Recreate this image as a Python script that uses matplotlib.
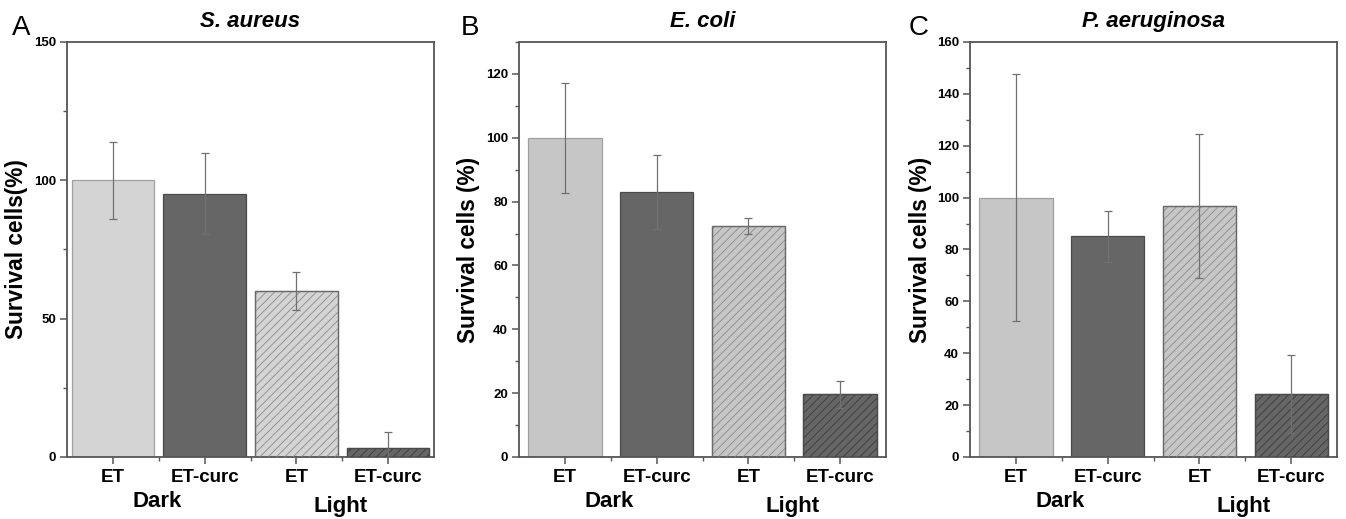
import numpy as np
import matplotlib
matplotlib.use('Agg')
import matplotlib.pyplot as plt
from matplotlib.ticker import MultipleLocator, FixedLocator
import matplotlib.transforms as mtransforms

plt.rcParams['font.family'] = ['Liberation Sans', 'DejaVu Sans']
plt.rcParams['hatch.linewidth'] = 0.6

# ── Data ──────────────────────────────────────────────────────────────────────
categories = ['ET', 'ET-curc', 'ET', 'ET-curc']
groups = ['Dark', 'Light']
titles = ['S. aureus', 'E. coli', 'P. aeruginosa']
letters = ['A', 'B', 'C']
ylabels = ['Survival cells(%)', 'Survival cells (%)', 'Survival cells (%)']

aureus_mean = [100, 95.2, 60, 3.2]
aureus_err = [14, 14.5, 7, 5.7]
coli_mean = [100, 83, 72.4, 19.6]
coli_err = [17.3, 11.7, 2.5, 4.3]
aerug_mean = [100, 85.1, 96.8, 24.3]
aerug_err = [47.5, 9.8, 27.8, 14.9]

means = [aureus_mean, coli_mean, aerug_mean]
errs = [aureus_err, coli_err, aerug_err]

# ── Style ─────────────────────────────────────────────────────────────────────
ylims = [150, 130, 160]
ymajor = [50, 20, 20]
yminor = [25, 10, 10]
bar_w = [0.9, 0.8, 0.8]
light_fill = ['#d4d4d4', '#c6c6c6', '#c6c6c6']
DARK_FILL = '#666666'
SPINE = '#555555'
hatch_col = ['#8a8a8a', '#3a3a3a']

fig = plt.figure(figsize=(13.46, 5.19), dpi=100)
lefts = [0.0498, 0.3856, 0.7207]
letter_x = [0.0085, 0.3425, 0.675]

x = np.arange(1, 5)
for i in range(3):
    ax = fig.add_axes([lefts[i], 0.1195, 0.2727, 0.7996])
    fills = [light_fill[i], DARK_FILL, light_fill[i], DARK_FILL]
    edges = ['#a0a0a0', '#4a4a4a', '#6a6a6a', '#4a4a4a']
    ax.bar(x, means[i], width=bar_w[i], color=fills, edgecolor=edges,
           linewidth=0.9, zorder=2)
    # hatch layer for the Light bars
    for j in (2, 3):
        hc = hatch_col[0] if j == 2 else hatch_col[1]
        ax.bar(x[j], means[i][j], width=bar_w[i], facecolor='none',
               edgecolor=hc, hatch='////', linewidth=0, zorder=3)
        ax.bar(x[j], means[i][j], width=bar_w[i], facecolor='none',
               edgecolor=edges[j], linewidth=0.9, zorder=3)
    ax.errorbar(x, means[i], yerr=errs[i], fmt='none', ecolor='#707070',
                elinewidth=0.9, capsize=3, capthick=0.9, zorder=4)

    ax.set_xlim(0.5, 4.5)
    ax.set_ylim(0, ylims[i])
    ax.yaxis.set_major_locator(MultipleLocator(ymajor[i]))
    ax.yaxis.set_minor_locator(MultipleLocator(yminor[i]))
    ax.set_xticks(x)
    ax.set_xticklabels(categories, fontsize=13.5, fontweight='bold')
    ax.xaxis.set_minor_locator(FixedLocator([1.5, 2.5, 3.5]))
    for lab in ax.get_yticklabels():
        lab.set_fontweight('bold')
        lab.set_fontsize(9.5)
    ax.tick_params(axis='both', which='major', direction='out', length=5,
                   width=1.1, color=SPINE)
    ax.tick_params(axis='both', which='minor', direction='out', length=3,
                   width=1.0, color=SPINE)
    ax.tick_params(axis='x', which='major', pad=4)
    ax.tick_params(axis='y', which='major', pad=3)
    for sp in ax.spines.values():
        sp.set_color(SPINE)
        sp.set_linewidth(1.3)

    ax.set_ylabel(ylabels[i], fontsize=16.3, fontweight='bold')
    ax.yaxis.set_label_coords(-0.105, 0.5)
    ax.set_title(titles[i], fontsize=16, fontweight='bold', style='italic',
                 pad=11)

    trans = mtransforms.blended_transform_factory(ax.transData, ax.transAxes)
    ax.text(1.48, -0.108, groups[0], transform=trans, ha='center', va='center',
            fontsize=16, fontweight='bold')
    ax.text(3.48, -0.12, groups[1], transform=trans, ha='center', va='center',
            fontsize=16, fontweight='bold')

    fig.text(letter_x[i], 0.9326, letters[i], fontsize=20, ha='left',
             va='baseline')

fig.savefig('out.png', dpi=100, facecolor='white')
